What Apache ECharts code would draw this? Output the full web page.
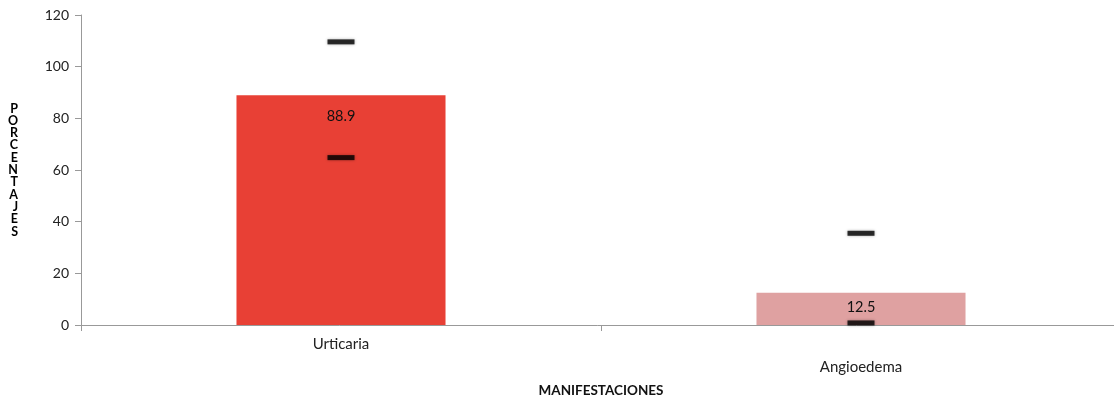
<!DOCTYPE html>
<html>
<head>
<meta charset="utf-8">
<script src="https://cdn.jsdelivr.net/npm/echarts@6/dist/echarts.min.js"></script>
<style>
html, body { margin: 0; padding: 0; background: #fff; }
#chart { width: 1114px; height: 402px; }
</style>
</head>
<body>
<div id="chart"></div>
<script>
// ---------- DATA ----------
const categories = ['Urticaria', 'Angioedema'];
const values = [88.9, 12.5];
const barColors = ['#E84035', '#DFA1A1'];
const upperMarks = [109.6, 35.5];
const lowerMarks = [64.8, 0.8];
const yTicks = [0, 20, 40, 60, 80, 100, 120];

var chart = echarts.init(document.getElementById('chart'));

const font = 'Lato, "Open Sans", sans-serif';

const markStyle = { color: '#000', shadowBlur: 3, shadowColor: 'rgba(0,0,0,0.4)' };

let options = {
	animation: false,
	grid: {
		left: 81,
		right: -7,
		top: 15,
		bottom: 77,
		outerBoundsMode: 'none'
	},
	xAxis: {
		type: 'category',
		data: categories,
		name: 'MANIFESTACIONES',
		nameLocation: 'middle',
		nameGap: 59,
		nameTextStyle: {
			fontFamily: font,
			fontWeight: 'bold',
			fontSize: 13.5,
			color: '#111'
		},
		axisLine: { lineStyle: { color: '#999' } },
		axisTick: { show: true, length: 6, lineStyle: { color: '#999' } },
		axisLabel: {
			fontFamily: font,
			fontSize: 15,
			color: '#222',
			lineHeight: 23,
			margin: 8,
			formatter: function (v, i) {
				return i % 2 ? '\n' + v : v;
			}
		}
	},
	yAxis: {
		type: 'value',
		min: yTicks[0],
		max: yTicks[yTicks.length - 1],
		interval: 20,
		name: 'PORCENTAJES'.split('').join('\n'),
		nameLocation: 'middle',
		nameRotate: 0,
		nameGap: 63,
		nameTextStyle: {
			fontFamily: font,
			fontWeight: 'bold',
			fontSize: 12.5,
			lineHeight: 12.3,
			color: '#000',
			padding: [12, 0, 0, 0]
		},
		axisLine: { show: true, lineStyle: { color: '#999' } },
		axisTick: { show: true, length: 6, lineStyle: { color: '#999' } },
		splitLine: { show: false },
		axisLabel: {
			fontFamily: font,
			fontSize: 14,
			color: '#222',
			margin: 12
		}
	},
	series: [
		{
			type: 'bar',
			barWidth: '40.2%',
			data: values.map((v, i) => ({ value: v, itemStyle: { color: barColors[i] } })),
			label: {
				show: true,
				position: 'insideTop',
				distance: 13,
				fontFamily: font,
				fontSize: 14.5,
				color: '#111'
			}
		},
		{
			type: 'scatter',
			symbol: 'rect',
			symbolSize: [27, 5],
			itemStyle: markStyle,
			data: upperMarks.map((v, i) => [i, v]),
			z: 5
		},
		{
			type: 'scatter',
			symbol: 'rect',
			symbolSize: [27, 5],
			itemStyle: markStyle,
			data: lowerMarks.map((v, i) => [i, v]),
			z: 5
		}
	]
};
options.series[0].data[1].label = { distance: 7 };

chart.setOption(options);
</script>
</body>
</html>
